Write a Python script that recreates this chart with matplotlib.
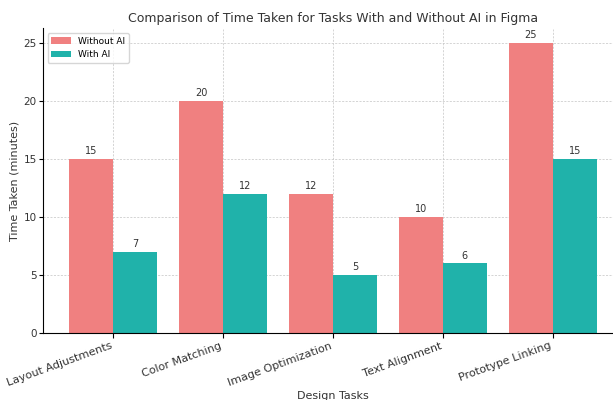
import matplotlib
matplotlib.use("Agg")
import matplotlib.pyplot as plt
import numpy as np

tasks = ['Layout Adjustments', 'Color Matching', 'Image Optimization', 'Text Alignment', 'Prototype Linking']
without_ai = [15, 20, 12, 10, 25]
with_ai = [7, 12, 5, 6, 15]

x = np.arange(len(tasks))
width = 0.4

fig = plt.figure(figsize=(6.13, 4.0), dpi=100)
ax = fig.add_axes([43 / 613, 67 / 400, 580 / 613, 304.5 / 400])

b1 = ax.bar(x - width / 2, without_ai, width, label='Without AI', color='lightcoral')
b2 = ax.bar(x + width / 2, with_ai, width, label='With AI', color='lightseagreen')

for bars in (b1, b2):
    for bar in bars:
        h = bar.get_height()
        ax.annotate(f'{h}', xy=(bar.get_x() + bar.get_width() / 2, h),
                    xytext=(0, 2), textcoords='offset points',
                    ha='center', va='bottom', fontsize=7, color='#333333')

ax.set_title('Comparison of Time Taken for Tasks With and Without AI in Figma', fontsize=9, color='#333333', pad=5)
ax.set_xlabel('Design Tasks', fontsize=8, color='#333333', labelpad=2)
ax.set_ylabel('Time Taken (minutes)', fontsize=8, color='#333333')
ax.yaxis.set_label_coords(-0.04, 0.5)
ax.set_xticks(x)
ax.set_xticklabels(tasks, rotation=20, ha='right', fontsize=8, color='#333333')
ax.tick_params(axis='x', pad=2)
ax.tick_params(axis='y', labelsize=7.5, labelcolor='#333333', pad=1.5, length=3)
ax.set_yticks([0, 5, 10, 15, 20, 25])
ax.grid(True, linestyle=(0, (3, 2)), linewidth=0.5, color='#c4c4c4')
ax.set_axisbelow(True)
ax.spines['top'].set_visible(False)
ax.spines['right'].set_visible(False)
ax.legend(fontsize=6.5, loc='upper left', handlelength=2.2)

fig.savefig('out.png', dpi=100)
